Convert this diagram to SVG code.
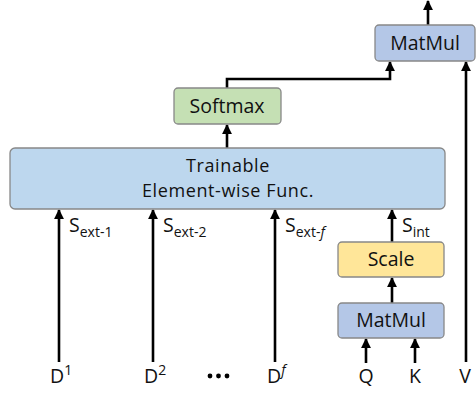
<svg xmlns="http://www.w3.org/2000/svg" width="476" height="394" viewBox="0 0 476 394">
<defs>
<marker id="ah" viewBox="0 0 10 10" refX="9" refY="5" markerWidth="3.8" markerHeight="3.8" orient="auto" markerUnits="strokeWidth">
<path d="M0,0 L10,5 L0,10 z" fill="#000"/>
</marker>
</defs>
<style>
text{font-family:"Open Sans","Liberation Sans",sans-serif;fill:#111;}
.lbl{font-size:19.5px;text-anchor:middle;}
.tw{font-size:18px;text-anchor:middle;letter-spacing:0.6px;}
.io{font-size:19.5px;}
.sub{font-size:14px;}
.box{stroke:#888;stroke-width:1.3;}
.blue{fill:#bdd7ee;}
.mm{fill:#b4c7e7;}
.green{fill:#c5e0b4;}
.yellow{fill:#ffe699;}
.c{fill:none;stroke:#000;stroke-width:2.6;marker-end:url(#ah);}
.dot{fill:#000;}
</style>
<g id="connectors">
<path class="c" d="M428,25 V1"/>
<path class="c" d="M227,88 V79 H390 V62"/>
<path class="c" d="M466,362 V62"/>
<path class="c" d="M227,148 V125"/>
<path class="c" d="M59,362 V210"/>
<path class="c" d="M153,362 V210"/>
<path class="c" d="M275,362 V210"/>
<path class="c" d="M392,242 V210"/>
<path class="c" d="M392,303 V278"/>
<path class="c" d="M366,363 V339"/>
<path class="c" d="M415,363 V339"/>
</g>
<g id="matmul-top">
<rect class="box mm" x="375" y="25" width="100" height="36" rx="4"/>
<text class="lbl" x="425" y="50">MatMul</text>
</g>
<g id="softmax">
<rect class="box green" x="174" y="88" width="107" height="36" rx="4"/>
<text class="lbl" x="227" y="113">Softmax</text>
</g>
<g id="trainable">
<rect class="box blue" x="10" y="148" width="435" height="61" rx="5"/>
<text class="tw" x="228" y="172">Trainable</text>
<text class="tw" x="228" y="197">Element-wise Func.</text>
</g>
<g id="scale">
<rect class="box yellow" x="338" y="242" width="106" height="35" rx="4"/>
<text class="lbl" x="391" y="266">Scale</text>
</g>
<g id="matmul-bottom">
<rect class="box mm" x="338" y="303" width="106" height="35" rx="4"/>
<text class="lbl" x="391" y="327">MatMul</text>
</g>
<g id="labels">
<text class="io" x="69" y="232">S<tspan class="sub" dy="5">ext-1</tspan></text>
<text class="io" x="163" y="232">S<tspan class="sub" dy="5">ext-2</tspan></text>
<text class="io" x="285" y="232">S<tspan class="sub" dy="5">ext-</tspan><tspan class="sub" font-style="italic">f</tspan></text>
<text class="io" x="402" y="232">S<tspan class="sub" dy="5">int</tspan></text>
<text class="io" x="50" y="383">D<tspan class="sub" dy="-8">1</tspan></text>
<text class="io" x="144" y="383">D<tspan class="sub" dy="-8">2</tspan></text>
<text class="io" x="267" y="383">D<tspan class="sub" dy="-8" font-style="italic">f</tspan></text>
<circle class="dot" cx="210" cy="376" r="2.4"/>
<circle class="dot" cx="218.5" cy="376" r="2.4"/>
<circle class="dot" cx="227" cy="376" r="2.4"/>
<text class="lbl" x="366" y="383">Q</text>
<text class="lbl" x="415" y="383">K</text>
<text class="lbl" x="465" y="383">V</text>
</g>
</svg>
